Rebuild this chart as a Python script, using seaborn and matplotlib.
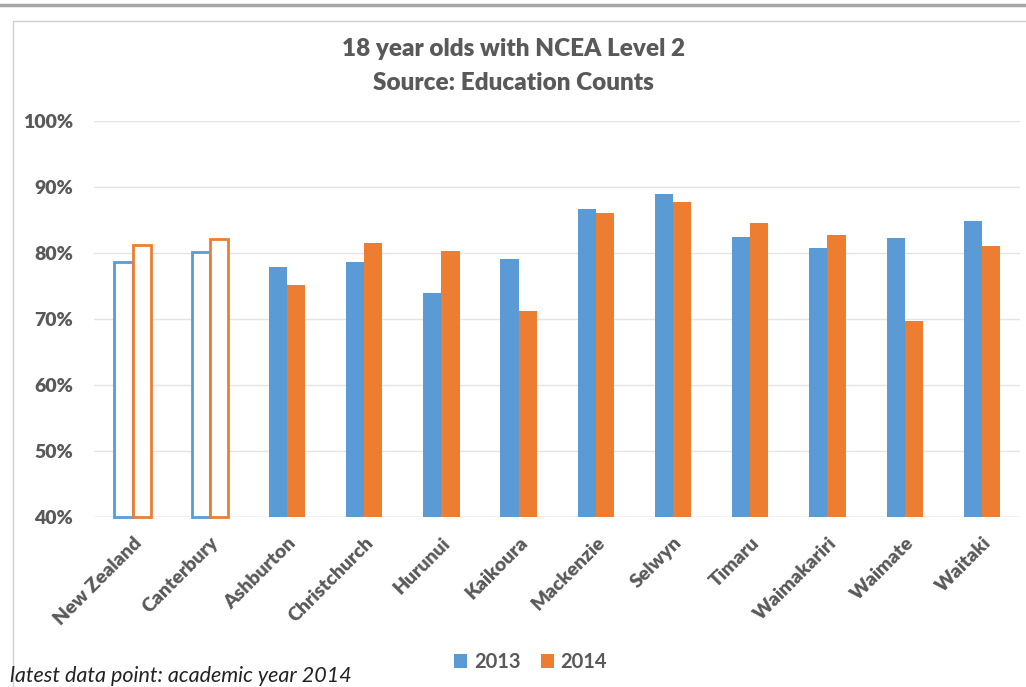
import pandas as pd
import numpy as np
import matplotlib.pyplot as plt
import seaborn as sns
from matplotlib.patches import Rectangle, Patch
from matplotlib.lines import Line2D
from matplotlib.ticker import PercentFormatter

# Data (% of 18 year olds with NCEA Level 2)
areas = ["New Zealand", "Canterbury", "Ashburton", "Christchurch", "Hurunui",
         "Kaikoura", "Mackenzie", "Selwyn", "Timaru", "Waimakariri",
         "Waimate", "Waitaki"]
years = ["2013", "2014"]
pct_2013 = [78.6, 80.2, 77.9, 78.6, 73.9, 79.1, 86.7, 89.0, 82.5, 80.7, 82.3, 84.8]
pct_2014 = [81.2, 82.1, 75.2, 81.5, 80.3, 71.2, 86.0, 87.7, 84.5, 82.7, 69.7, 81.1]
hollow = ["New Zealand", "Canterbury"]  # national / regional totals drawn as outlines

df = pd.DataFrame({"Area": areas * 2,
                   "Year": ["2013"] * len(areas) + ["2014"] * len(areas),
                   "Pct": pct_2013 + pct_2014})

blue = "#5B9BD5"
orange = "#ED7D31"
grey = "#595959"
ymin = 40

sns.set_style("white")
plt.rcParams["font.family"] = ["Lato", "DejaVu Sans"]

fig = plt.figure(figsize=(10.26, 6.87), dpi=100)
ax = fig.add_axes([0.0916, 0.247, 0.903, 0.577])

sns.barplot(data=df, x="Area", y="Pct", hue="Year", order=areas, hue_order=years,
            palette=[blue, orange], width=0.47, saturation=1, legend=False, ax=ax)

# hollow bars for New Zealand and Canterbury (start them at the axis floor so the outline closes)
for cont, col in zip(ax.containers, [blue, orange]):
    for i, bar in enumerate(cont):
        if areas[i] in hollow:
            top = bar.get_y() + bar.get_height()
            bar.set_y(ymin)
            bar.set_height(top - ymin)
            bar.set_facecolor("white")
            bar.set_edgecolor(col)
            bar.set_linewidth(2)
            bar.set_clip_on(False)
        else:
            bar.set_edgecolor("none")

ax.set_ylim(ymin, 100)
ax.set_yticks(np.arange(ymin, 101, 10))
ax.yaxis.set_major_formatter(PercentFormatter(decimals=0))
ax.set_xlim(-0.5, len(areas) - 0.5)
ax.grid(axis="y", color="#e4e4e4", linewidth=1)
ax.set_axisbelow(True)
sns.despine(ax=ax, left=True, top=True, right=True, bottom=True)
ax.axhline(ymin, color="#d9d9d9", linewidth=1, zorder=0)

ax.set_xlabel("")
ax.set_ylabel("")
ax.tick_params(axis="both", length=0)
ax.tick_params(axis="y", pad=15)
for lab in ax.get_yticklabels():
    lab.set_fontsize(14)
    lab.set_fontweight("heavy")
    lab.set_color(grey)
ax.set_xticks(range(len(areas)))
ax.set_xticklabels(areas, rotation=45, ha="right", rotation_mode="anchor",
                   fontsize=14, fontweight="heavy", color=grey)
ax.tick_params(axis="x", pad=12)

# title
fig.text(0.5, 0.928, "18 year olds with NCEA Level 2", ha="center", va="center",
         fontsize=17.5, fontweight="heavy", color=grey)
fig.text(0.5, 0.879, "Source: Education Counts", ha="center", va="center",
         fontsize=17.5, fontweight="heavy", color=grey)

# legend
handles = [Patch(facecolor=blue, edgecolor="none"), Patch(facecolor=orange, edgecolor="none")]
fig.legend(handles, years, loc="center", bbox_to_anchor=(0.517, 0.036), ncol=2,
           frameon=False, fontsize=14.5, handlelength=0.65, handleheight=0.65,
           handletextpad=0.35, columnspacing=1.0, labelcolor=grey,
           prop={"weight": "bold", "size": 14.5})

# footnote
fig.text(0.01, 0.016, "latest data point: academic year 2014", ha="left", va="center",
         fontsize=15.5, style="italic", color="#222222")

# chart frame and the top rule of the page
fig.add_artist(Rectangle((0.0127, -0.1), 1.2, 1.07, transform=fig.transFigure,
                         fill=False, edgecolor="#d0d0d0", linewidth=1))
fig.add_artist(Line2D([0, 1], [0.993, 0.993], transform=fig.transFigure,
                      color="#a6a6a6", linewidth=2.5))

fig.savefig("out.png", dpi=100)
